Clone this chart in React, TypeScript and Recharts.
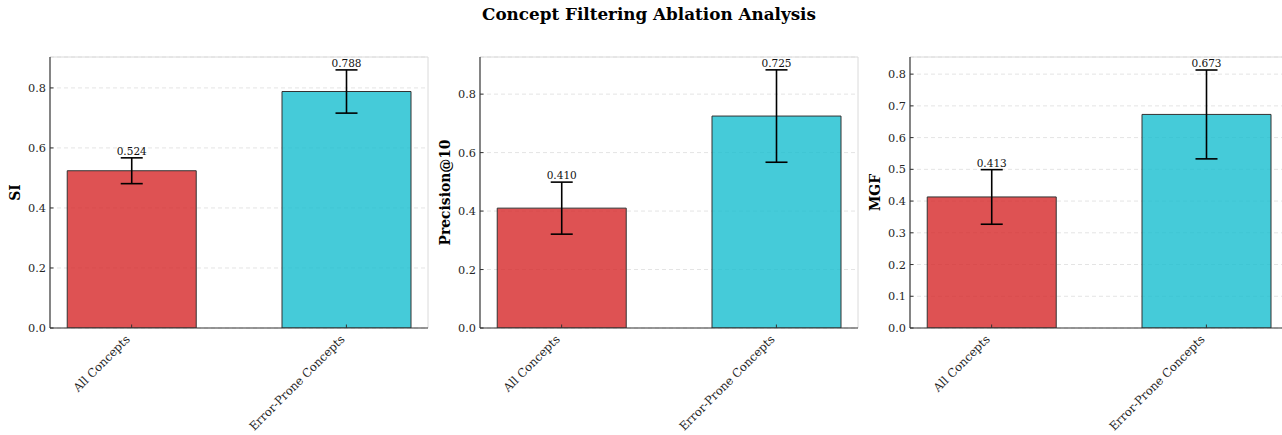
import React from 'react';
import { BarChart, Bar, XAxis, YAxis, CartesianGrid, ErrorBar, Cell, LabelList, ReferenceLine } from 'recharts';

const categories = ['All Concepts', 'Error-Prone Concepts'];
const positions = [0, 1];
const barColors = ['#d62728', '#17becf'];

const siValues = [0.524, 0.788];
const siErrors = [0.043, 0.072];
const precisionValues = [0.41, 0.725];
const precisionErrors = [0.089, 0.158];
const mgfValues = [0.413, 0.673];
const mgfErrors = [0.086, 0.14];

const metricNames = ['SI', 'Precision@10', 'MGF'];
const yMaxes = [0.903, 0.927, 0.854];
const ticksTwoTenths = [0, 0.2, 0.4, 0.6, 0.8];
const ticksTenths = [0, 0.1, 0.2, 0.3, 0.4, 0.5, 0.6, 0.7, 0.8];
const xDomain: [number, number] = [-0.38, 1.38];

const FONT = '"DejaVu Serif", serif';

const panels = [
  { name: metricNames[0], values: siValues, errors: siErrors, yMax: yMaxes[0], ticks: ticksTwoTenths },
  { name: metricNames[1], values: precisionValues, errors: precisionErrors, yMax: yMaxes[1], ticks: ticksTwoTenths },
  { name: metricNames[2], values: mgfValues, errors: mgfErrors, yMax: yMaxes[2], ticks: ticksTenths },
];

const YTick = (props: any) => {
  const { x, y, payload } = props;
  return (
    <g>
      <text x={x} y={y} dy="0.36em" textAnchor="end" fontSize={11.3} fontFamily={FONT} fill="#262626">
        {Number(payload.value).toFixed(1)}
      </text>
      <line x1={x + 4} x2={x + 7.5} y1={y} y2={y} stroke="#333" strokeWidth={1} />
    </g>
  );
};

const XTick = (props: any) => {
  const { x, y, payload } = props;
  const label = categories[Math.round(payload.value)];
  const tx = x - 1;
  const ty = y + 12;
  return (
    <g>
      <line x1={x} x2={x} y1={y} y2={y - 3.5} stroke="#333" strokeWidth={1} />
      <text x={tx} y={ty} textAnchor="end" fontSize={11.6} fontFamily={FONT} fill="#262626" transform={`rotate(-45, ${tx}, ${ty})`}>
        {label}
      </text>
    </g>
  );
};

const YLabel = (props: any) => {
  const { viewBox, text } = props;
  const cy = viewBox ? viewBox.y + viewBox.height / 2 : 192;
  const cx = 15;
  return (
    <text x={cx} y={cy} textAnchor="middle" dominantBaseline="central" fontSize={13.9} fontWeight="bold" fontFamily={FONT} fill="#000" transform={`rotate(-90, ${cx}, ${cy})`}>
      {text}
    </text>
  );
};

const makeValueLabel = (errors: number[]) => (props: any) => {
  const { x, y, width, height, value, index } = props;
  const v = Number(value);
  const err = errors[index];
  const pxPerUnit = height / v;
  const errTop = y + height - (v + err) * pxPerUnit;
  return (
    <text x={x + width / 2} y={errTop - 3} textAnchor="middle" fontSize={10.5} fontFamily={FONT} fill="#111">
      {v.toFixed(3)}
    </text>
  );
};

const Panel = ({ panel }: { panel: typeof panels[number] }) => {
  const data = positions.map((p, i) => ({ x: p, value: panel.values[i], err: panel.errors[i], name: categories[i] }));
  return (
    <BarChart width={430} height={435} data={data} margin={{ top: 57, right: 2, bottom: 0, left: 0 }}>
      <CartesianGrid vertical={false} stroke="#e4e4e4" strokeDasharray="4 3" />
      <ReferenceLine y={panel.yMax} stroke="#dadada" strokeWidth={1} />
      <ReferenceLine x={xDomain[1]} stroke="#dadada" strokeWidth={1} />
      <XAxis
        type="number"
        dataKey="x"
        domain={xDomain}
        ticks={positions}
        allowDataOverflow
        height={107}
        tickSize={0}
        tickMargin={0}
        tick={<XTick />}
        axisLine={{ stroke: '#333', strokeWidth: 1.2 }}
        interval={0}
      />
      <YAxis
        type="number"
        domain={[0, panel.yMax]}
        ticks={panel.ticks}
        allowDataOverflow
        width={50}
        tickSize={0}
        tickMargin={4}
        tick={<YTick />}
        axisLine={{ stroke: '#333', strokeWidth: 1.2 }}
        interval={0}
        label={<YLabel text={panel.name} />}
      />
      <Bar dataKey="value" barSize={129} stroke="#333" strokeWidth={1} isAnimationActive={false}>
        {data.map((d, i) => (
          <Cell key={d.name} fill={barColors[i]} fillOpacity={0.8} />
        ))}
        <ErrorBar dataKey="err" width={11} stroke="#000" strokeWidth={1.6} direction="y" isAnimationActive={false} />
        <LabelList dataKey="value" content={makeValueLabel(panel.errors)} />
      </Bar>
    </BarChart>
  );
};

export default function App() {
  return (
    <div style={{ position: 'fixed', left: 0, top: 0, width: 1282, height: 435, overflow: 'hidden', background: '#fff' }}>
      <svg width={1282} height={40} style={{ position: 'absolute', left: 0, top: 0 }}>
        <text x={649} y={20} textAnchor="middle" fontSize={16.8} fontWeight="bold" fontFamily={FONT} fill="#000">
          Concept Filtering Ablation Analysis
        </text>
      </svg>
      {panels.map((p, i) => (
        <div key={p.name} style={{ position: 'absolute', left: 430 * i, top: 0 }}>
          <Panel panel={p} />
        </div>
      ))}
    </div>
  );
}
